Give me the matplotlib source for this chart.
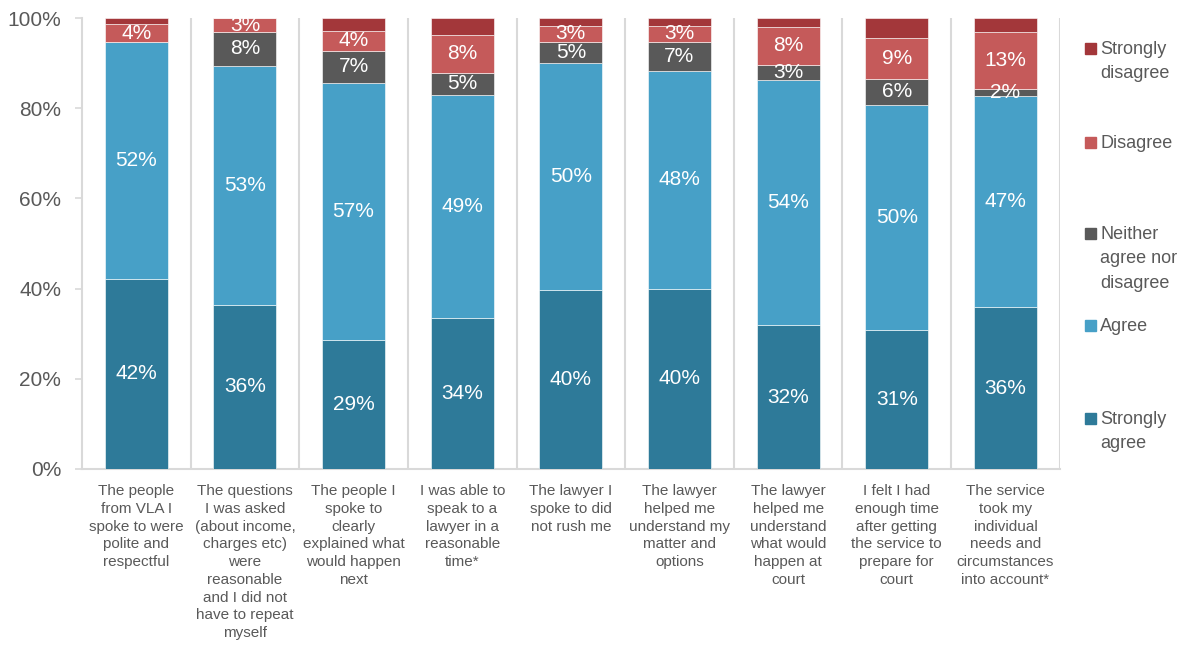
import matplotlib.pyplot as plt
import numpy as np
from matplotlib.patches import Rectangle

plt.rcParams['font.family'] = ['Liberation Sans', 'DejaVu Sans']

categories = [
    "The people\nfrom VLA I\nspoke to were\npolite and\nrespectful",
    "The questions\nI was asked\n(about income,\ncharges etc)\nwere\nreasonable\nand I did not\nhave to repeat\nmyself",
    "The people I\nspoke to\nclearly\nexplained what\nwould happen\nnext",
    "I was able to\nspeak to a\nlawyer in a\nreasonable\ntime*",
    "The lawyer I\nspoke to did\nnot rush me",
    "The lawyer\nhelped me\nunderstand my\nmatter and\noptions",
    "The lawyer\nhelped me\nunderstand\nwhat would\nhappen at\ncourt",
    "I felt I had\nenough time\nafter getting\nthe service to\nprepare for\ncourt",
    "The service\ntook my\nindividual\nneeds and\ncircumstances\ninto account*",
]

strongly_agree = [42.2, 36.4, 28.6, 33.5, 39.8, 40.0, 31.9, 30.8, 35.9]
agree = [52.4, 53.0, 57.1, 49.4, 50.3, 48.2, 54.4, 49.9, 46.8]
neither = [0.0, 7.5, 7.1, 5.0, 4.7, 6.6, 3.4, 5.9, 1.6]
disagree = [4.1, 3.1, 4.3, 8.4, 3.4, 3.4, 8.4, 8.9, 12.7]
strongly_disagree = [1.3, 0.0, 2.9, 3.7, 1.8, 1.8, 1.9, 4.5, 3.0]

series_names = ["Strongly agree", "Agree", "Neither agree nor disagree",
                "Disagree", "Strongly disagree"]
series = [strongly_agree, agree, neither, disagree, strongly_disagree]
colors = ["#2E7A99", "#47A0C7", "#595959", "#C55A5A", "#A3373A"]
show_labels = [True, True, True, True, False]

legend_labels = ["Strongly\ndisagree", "Disagree", "Neither\nagree nor\ndisagree",
                 "Agree", "Strongly\nagree"]
legend_y = [49, 143, 234, 326, 419]  # pixel row of each entry's first line

grey = "#595959"

fig = plt.figure(figsize=(11.88, 6.46), dpi=100)
ax = fig.add_axes([0.069, 0.274, 0.823, 0.698])

x = np.arange(len(categories))
bottom = np.zeros(len(categories))
for vals, col, lab in zip(series, colors, show_labels):
    vals = np.array(vals)
    ax.bar(x, vals, bottom=bottom, width=0.58, color=col,
           edgecolor="white", linewidth=0.4, zorder=3)
    if lab:
        for xi, v, b in zip(x, vals, bottom):
            if round(v) >= 1:
                ax.text(xi, b + v / 2, f"{round(v)}%", ha="center", va="center",
                        color="white", fontsize=15, zorder=4)
    bottom += vals

# separators between categories
for xb in np.arange(0.5, len(categories), 1.0):
    ax.axvline(xb, color="#D9D9D9", linewidth=1.5, zorder=1)

ax.set_xlim(-0.5, len(categories) - 0.5)
ax.set_ylim(0, 100)
ax.set_yticks(np.arange(0, 101, 20))
ax.set_yticklabels([f"{t}%" for t in range(0, 101, 20)], fontsize=15, color=grey)
ax.set_xticks(x)
ax.set_xticklabels(categories, fontsize=11, color=grey, linespacing=1.34)
ax.tick_params(axis="x", length=0, pad=11)
ax.tick_params(axis="y", length=5, color="#D9D9D9", width=1.2, pad=10)
for s in ["top", "right"]:
    ax.spines[s].set_visible(False)
ax.spines["left"].set_color("#D9D9D9")
ax.spines["left"].set_linewidth(1.5)
ax.spines["bottom"].set_color("#D9D9D9")
ax.spines["bottom"].set_linewidth(1.5)

# legend on the right, strongly disagree at the top
W, H = 1188, 646
for lab, col, c in zip(legend_labels, colors[::-1], legend_y):
    fig.patches.append(Rectangle((1085 / W, 1 - (c + 5) / H), 11 / W, 11 / H,
                                 transform=fig.transFigure, color=col))
    fig.text(1100 / W, 1 - (c - 8) / H, lab, fontsize=13, color=grey,
             va="top", ha="left", linespacing=1.56)

fig.savefig("out.png", dpi=100)
